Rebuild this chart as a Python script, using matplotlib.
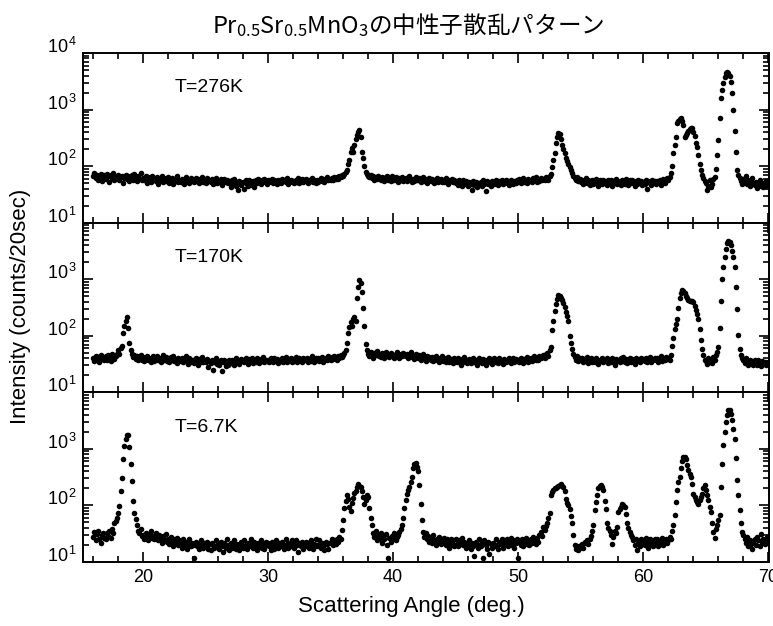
import numpy as np
import matplotlib
matplotlib.use('Agg')
import matplotlib.pyplot as plt
from matplotlib.ticker import MultipleLocator, LogLocator, NullFormatter
from matplotlib.transforms import blended_transform_factory

plt.rcParams['font.family'] = ['Liberation Sans', 'DejaVu Sans']
plt.rcParams['mathtext.fontset'] = 'custom'
plt.rcParams['mathtext.rm'] = 'Liberation Sans'
plt.rcParams['mathtext.it'] = 'Liberation Sans:italic'
plt.rcParams['mathtext.bf'] = 'Liberation Sans:bold'
plt.rcParams['mathtext.sf'] = 'Noto Sans CJK JP'

# scan grid: 16.0 .. 70.0 deg, 0.1 deg steps
angle_start = 16.0
angle_step = 0.1

# intensities (counts/20sec), one row per degree (x.0 ... x.9)
I_276K = [
    68, 75, 62, 70, 58, 66, 72, 55, 64, 70,
    60, 73, 66, 52, 69, 61, 75, 58, 63, 67,
    71, 57, 64, 68, 50, 62, 70, 59, 66, 54,
    63, 69, 58, 72, 61, 55, 66, 60, 75, 57,
    62, 56, 68, 50, 64, 59, 53, 66, 58, 61,
    55, 63, 49, 60, 57, 66, 52, 61, 54, 59,
    64, 51, 58, 62, 48, 60, 55, 67, 52, 57,
    53, 60, 56, 49, 63, 54, 58, 51, 61, 55,
    57, 52, 62, 55, 59, 50, 56, 63, 53, 58,
    50, 61, 54, 57, 52, 60, 48, 56, 62, 51,
    58, 53, 60, 47, 55, 59, 52, 57, 50, 54,
    42, 56, 48, 60, 45, 52, 38, 55, 47, 50,
    53, 40, 57, 49, 44, 58, 51, 46, 55, 42,
    56, 50, 59, 53, 48, 57, 52, 60, 54, 49,
    57, 52, 55, 60, 50, 58, 54, 49, 56, 53,
    51, 59, 54, 57, 52, 61, 49, 55, 58, 53,
    55, 50, 58, 53, 62, 51, 56, 59, 52, 57,
    60, 54, 51, 57, 55, 62, 53, 58, 50, 56,
    53, 58, 61, 55, 59, 52, 57, 63, 56, 60,
    58, 62, 56, 65, 60, 64, 59, 67, 63, 70,
    66, 72, 78, 85, 110, 130, 175, 205, 180, 240,
    300, 360, 400, 430, 330, 180, 140, 100, 80, 72,
    68, 64, 70, 62, 66, 58, 63, 60, 67, 61,
    58, 65, 60, 55, 63, 68, 57, 61, 54, 66,
    60, 56, 63, 58, 52, 61, 57, 64, 55, 59,
    62, 54, 59, 66, 57, 53, 60, 55, 63, 58,
    56, 61, 52, 58, 64, 55, 59, 50, 57, 62,
    54, 60, 57, 51, 58, 62, 53, 56, 60, 52,
    57, 53, 61, 55, 49, 58, 54, 60, 52, 56,
    50, 55, 47, 58, 52, 45, 56, 49, 54, 51,
    44, 53, 48, 38, 55, 46, 52, 42, 50, 47,
    52, 45, 56, 49, 36, 54, 48, 51, 44, 55,
    53, 49, 57, 51, 46, 55, 50, 58, 48, 52,
    56, 50, 54, 47, 58, 52, 49, 55, 51, 57,
    54, 59, 51, 56, 62, 53, 57, 50, 60, 55,
    58, 52, 61, 56, 64, 53, 59, 55, 62, 57,
    60, 56, 64, 62, 58, 68, 72, 95, 130, 170,
    260, 330, 390, 370, 300, 235, 200, 170, 140, 125,
    110, 95, 85, 75, 68, 62, 58, 65, 55, 60,
    52, 58, 48, 55, 61, 50, 56, 46, 53, 57,
    49, 55, 60, 51, 45, 57, 52, 48, 56, 50,
    53, 47, 58, 52, 56, 44, 55, 50, 59, 48,
    55, 51, 46, 57, 53, 49, 60, 52, 47, 56,
    50, 57, 52, 45, 55, 49, 58, 51, 54, 47,
    53, 48, 56, 40, 55, 51, 46, 57, 50, 54,
    49, 55, 52, 58, 47, 54, 60, 51, 56, 62,
    58, 64, 75, 100, 170, 240, 330, 570, 620, 680,
    700, 620, 540, 330, 360, 380, 420, 460, 480, 470,
    400, 340, 260, 215, 160, 110, 85, 70, 62, 55,
    50, 38, 45, 58, 42, 48, 60, 65, 90, 155,
    290, 700, 1600, 2200, 2900, 3700, 4400, 4700, 4500, 3900,
    3100, 1950, 1000, 420, 180, 85, 70, 62, 55, 48,
    60, 52, 66, 48, 57, 44, 55, 62, 50, 46,
    53, 41, 48, 58, 45, 51, 42, 47, 55, 44,
    46,
]

I_170K = [
    40, 36, 44, 38, 42, 35, 46, 39, 41, 37,
    43, 38, 45, 40, 36, 47, 41, 39, 44, 48,
    55, 48, 60, 65, 112, 150, 185, 215, 140, 75,
    55, 48, 42, 46, 39, 44, 37, 41, 45, 38,
    42, 36, 40, 44, 37, 41, 35, 39, 43, 36,
    39, 43, 37, 41, 34, 40, 45, 38, 42, 36,
    40, 35, 42, 38, 44, 36, 39, 33, 41, 37,
    36, 41, 34, 39, 43, 37, 32, 40, 35, 38,
    38, 33, 40, 36, 31, 39, 35, 42, 34, 37,
    34, 39, 28, 36, 33, 38, 25, 35, 40, 32,
    36, 30, 38, 24, 34, 37, 29, 35, 31, 38,
    33, 38, 35, 30, 40, 34, 37, 32, 39, 36,
    37, 34, 40, 36, 32, 39, 35, 41, 33, 38,
    35, 40, 37, 33, 39, 36, 42, 34, 38, 36,
    38, 35, 41, 37, 34, 40, 36, 39, 33, 38,
    36, 40, 34, 38, 42, 35, 39, 37, 41, 34,
    39, 36, 42, 35, 38, 41, 37, 34, 40, 38,
    37, 41, 35, 39, 36, 43, 38, 34, 40, 37,
    40, 36, 39, 42, 35, 38, 41, 37, 43, 39,
    38, 42, 39, 44, 40, 37, 43, 41, 45, 42,
    46, 50, 57, 75, 110, 145, 175, 150, 200, 215,
    180, 470, 740, 960, 850, 600, 310, 150, 72, 55,
    48, 44, 52, 46, 41, 50, 45, 53, 47, 43,
    42, 49, 45, 40, 51, 44, 47, 42, 50, 46,
    44, 41, 48, 52, 45, 40, 47, 43, 50, 46,
    43, 48, 40, 46, 51, 42, 45, 39, 47, 44,
    40, 45, 38, 43, 47, 41, 36, 44, 39, 42,
    38, 42, 36, 40, 44, 37, 41, 35, 39, 43,
    36, 40, 34, 38, 42, 35, 39, 37, 33, 41,
    38, 34, 40, 36, 31, 39, 35, 42, 37, 33,
    35, 39, 33, 37, 41, 34, 38, 30, 36, 40,
    37, 33, 39, 35, 31, 38, 34, 40, 36, 32,
    36, 40, 34, 38, 33, 41, 35, 37, 32, 39,
    34, 38, 36, 40, 33, 37, 41, 35, 39, 36,
    38, 35, 41, 37, 33, 39, 36, 42, 34, 38,
    40, 36, 39, 43, 37, 41, 38, 44, 40, 42,
    45, 41, 48, 50, 44, 55, 63, 125, 180, 270,
    360, 450, 530, 500, 460, 430, 380, 325, 260, 220,
    185, 100, 75, 58, 48, 42, 38, 44, 36, 40,
    37, 41, 34, 39, 36, 42, 33, 38, 40, 35,
    39, 35, 41, 37, 32, 38, 36, 40, 34, 37,
    36, 40, 33, 38, 35, 41, 37, 31, 39, 36,
    38, 34, 40, 36, 42, 35, 39, 33, 37, 41,
    35, 39, 37, 32, 40, 36, 38, 34, 41, 37,
    39, 36, 41, 34, 38, 42, 35, 39, 37, 40,
    37, 41, 35, 39, 43, 36, 40, 38, 42, 39,
    41, 38, 46, 65, 90, 130, 160, 200, 315, 460,
    560, 640, 620, 560, 500, 460, 430, 420, 410, 405,
    400, 340, 290, 240, 195, 130, 83, 58, 45, 38,
    36, 32, 40, 35, 38, 33, 42, 37, 45, 52,
    63, 137, 410, 1000, 1650, 2500, 3400, 4300, 4800, 4600,
    4000, 3100, 2500, 1650, 740, 295, 105, 58, 45, 40,
    37, 33, 40, 35, 31, 38, 34, 36, 30, 37,
    34, 31, 37, 33, 29, 36, 32, 35, 30, 33,
    34,
]

I_6p7K = [
    28, 34, 24, 31, 36, 26, 22, 30, 33, 27,
    25, 32, 29, 35, 27, 38, 33, 48, 52, 61,
    75, 98, 178, 308, 660, 1130, 1500, 1790, 1790, 1100,
    540, 270, 118, 74, 57, 46, 36, 32, 38, 29,
    30, 26, 33, 28, 24, 31, 35, 27, 29, 25,
    32, 27, 24, 30, 26, 22, 29, 25, 31, 23,
    26, 21, 28, 23, 19, 25, 22, 27, 20, 24,
    22, 18, 25, 20, 23, 17, 21, 26, 19, 22,
    20, 12, 23, 19, 21, 17, 24, 20, 18, 22,
    19, 23, 17, 21, 16, 22, 20, 18, 24, 19,
    21, 17, 23, 19, 15, 22, 18, 25, 20, 16,
    22, 18, 20, 24, 17, 21, 19, 16, 23, 20,
    18, 24, 20, 17, 22, 19, 25, 21, 18, 23,
    20, 16, 22, 19, 24, 18, 21, 17, 23, 20,
    22, 19, 16, 23, 20, 17, 24, 21, 18, 22,
    19, 23, 20, 17, 25, 21, 18, 22, 19, 24,
    21, 18, 24, 20, 15, 22, 19, 23, 17, 21,
    23, 19, 22, 18, 24, 20, 17, 21, 25, 19,
    20, 24, 18, 22, 19, 16, 23, 21, 17, 22,
    22, 25, 20, 24, 21, 26, 23, 28, 25, 37,
    55, 90, 120, 150, 130, 95, 80, 110, 134, 165,
    180, 210, 235, 225, 213, 180, 140, 107, 125, 150,
    140, 90, 60, 45, 32, 28, 35, 24, 30, 26,
    33, 22, 28, 25, 31, 20, 12, 27, 23, 29,
    26, 32, 24, 28, 30, 34, 38, 45, 61, 90,
    123, 162, 185, 213, 260, 318, 450, 530, 560, 470,
    405, 228, 107, 56, 34, 28, 32, 25, 29, 23,
    27, 22, 30, 24, 20, 26, 23, 28, 21, 25,
    23, 27, 20, 25, 22, 18, 26, 21, 24, 19,
    25, 21, 19, 24, 22, 27, 20, 23, 18, 22,
    20, 24, 17, 22, 19, 13, 23, 21, 18, 25,
    19, 22, 12, 24, 20, 17, 23, 14, 21, 18,
    22, 19, 25, 20, 17, 23, 21, 26, 18, 24,
    21, 25, 19, 23, 27, 20, 24, 18, 22, 26,
    12, 23, 20, 25, 19, 22, 27, 21, 24, 20,
    26, 22, 28, 24, 21, 27, 23, 30, 34, 29,
    41, 37, 44, 48, 60, 74, 150, 170, 190, 200,
    205, 213, 225, 232, 236, 225, 213, 180, 132, 110,
    100, 87, 65, 48, 30, 20, 17, 19, 16, 18,
    20, 21, 18, 23, 22, 24, 21, 26, 29, 35,
    45, 83, 115, 150, 200, 220, 228, 215, 187, 120,
    86, 48, 40, 36, 30, 21, 28, 36, 33, 41,
    76, 85, 95, 107, 100, 94, 70, 49, 40, 34,
    30, 28, 24, 20, 25, 16, 22, 19, 26, 21,
    24, 20, 27, 22, 18, 25, 21, 23, 19, 26,
    22, 25, 19, 24, 21, 27, 20, 23, 26, 22,
    24, 28, 26, 35, 45, 67, 115, 185, 260, 318,
    450, 600, 720, 710, 670, 520, 415, 360, 318, 236,
    162, 140, 123, 115, 107, 125, 140, 162, 200, 228,
    187, 150, 123, 95, 78, 48, 34, 27, 38, 45,
    55, 67, 213, 550, 1150, 2000, 3000, 4000, 4800, 4900,
    4200, 3300, 2200, 1500, 690, 280, 150, 83, 48, 34,
    30, 26, 22, 28, 19, 24, 21, 17, 23, 26,
    20, 28, 24, 19, 31, 22, 26, 21, 25, 28,
    24,
]

panel_labels = ['T=276K', 'T=170K', 'T=6.7K']
panel_data = [I_276K, I_170K, I_6p7K]
panel_ytick_exponents = [[1, 2, 3, 4], [1, 2, 3], [1, 2, 3]]
x_major_ticks = [20, 30, 40, 50, 60, 70]

title_text = r'$\mathsf{Pr_{0.5}Sr_{0.5}MnO_{3}の中性子散乱パターン}$'
xlabel_text = 'Scattering Angle (deg.)'
ylabel_text = 'Intensity (counts/20sec)'

W, H = 773, 626
fig = plt.figure(figsize=(W / 100, H / 100), dpi=100)

left_px, right_px = 83, 769
panel_px = [(53, 222.7), (222.7, 392.3), (392.3, 562)]

axes = []
for i, (top, bot) in enumerate(panel_px):
    rect = [left_px / W, 1 - bot / H, (right_px - left_px) / W, (bot - top) / H]
    ax = fig.add_axes(rect, sharex=axes[0] if axes else None)
    axes.append(ax)
    vals = np.array(panel_data[i], dtype=float)
    x = np.round(angle_start + angle_step * np.arange(len(vals)), 1)
    ax.plot(x, vals, 'o', ms=4.0, color='black', mew=0, clip_on=True)
    ax.set_yscale('log')
    ax.set_ylim(10, 1e4)
    ax.set_xlim(15.2, 70.05)
    ax.xaxis.set_major_locator(MultipleLocator(10))
    ax.xaxis.set_minor_locator(MultipleLocator(2))
    ax.yaxis.set_major_locator(LogLocator(base=10, numticks=10))
    ax.yaxis.set_minor_locator(LogLocator(base=10, subs=np.arange(2, 10), numticks=30))
    ax.yaxis.set_major_formatter(NullFormatter())
    ax.yaxis.set_minor_formatter(NullFormatter())
    ax.tick_params(which='both', direction='in', top=True, right=True,
                   width=1.2, colors='black')
    ax.tick_params(which='major', length=7.5)
    ax.tick_params(which='minor', length=4.0)
    ax.tick_params(axis='x', labelsize=13, pad=5)
    if i < 2:
        ax.tick_params(axis='x', labelbottom=False)
    for sp in ax.spines.values():
        sp.set_linewidth(1.4)
    trans = blended_transform_factory(ax.transAxes, ax.transData)
    for e in panel_ytick_exponents[i]:
        ax.text(-0.008, 10.0 ** e, r'$10^{\,%d}$' % e, transform=trans,
                ha='right', va='baseline', fontsize=13)
    trans2 = blended_transform_factory(ax.transData, ax.transAxes)
    ax.text(22.5, 0.795, panel_labels[i], transform=trans2, ha='left',
            va='center', fontsize=14)

axes[-1].set_xticks(x_major_ticks)
axes[-1].set_xticklabels([str(t) for t in x_major_ticks])

fig.text(0.532, 0.031, xlabel_text, ha='center', va='center', fontsize=16)
fig.text(0.026, 0.511, ylabel_text, ha='center', va='center', rotation=90, fontsize=16)
fig.text(0.528, 0.96, title_text, ha='center', va='center', fontsize=17)

fig.savefig('out.png', dpi=100)
